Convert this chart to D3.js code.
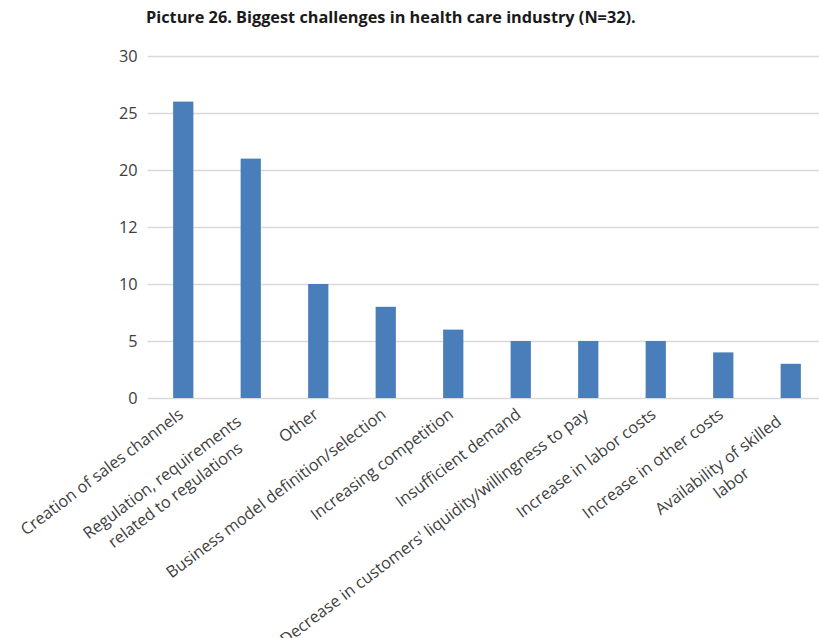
<!DOCTYPE html>
<html><head><meta charset="utf-8">
<script src="https://cdn.jsdelivr.net/npm/d3@7"></script>
<style>body{margin:0;background:#fff}svg{display:block}</style>
</head><body>
<svg id="c" width="819" height="638"></svg>
<script>
const title = "Picture 26. Biggest challenges in health care industry (N=32).";
const categories = [
  ["Creation of sales channels"],
  ["Regulation, requirements","related to regulations"],
  ["Other"],
  ["Business model definition/selection"],
  ["Increasing competition"],
  ["Insufficient demand"],
  ["Decrease in customers' liquidity/willingness to pay"],
  ["Increase in labor costs"],
  ["Increase in other costs"],
  ["Availability of skilled","labor"]
];
const values = [26, 21, 10, 8, 6, 5, 5, 5, 4, 3];
const tickValues = [0, 5, 10, 15, 20, 25, 30];
const tickLabels = ["0", "5", "10", "12", "20", "25", "30"];

const svg = d3.select("#c");
const font = "'Open Sans', sans-serif";
const fs = 16.3;
const mLeft = 149.5, mRight = 824.5, mTop = 56, mBottom = 398;

svg.append("text").attr("x", 146).attr("y", 23)
  .attr("font-family", font).attr("font-weight", 700).attr("font-size", fs)
  .attr("fill", "#1a1a1a").text(title);

const y = d3.scaleLinear().domain([0, 30]).range([mBottom, mTop]);
const x = d3.scaleBand().domain(d3.range(categories.length)).range([mLeft, mRight]).paddingInner(0.7).paddingOuter(0.35);

const yAxis = svg.append("g").attr("transform", `translate(${mLeft},0)`)
  .call(d3.axisLeft(y).tickValues(tickValues).tickFormat((d,i)=>tickLabels[i]).tickSize(-(mRight-mLeft)).tickPadding(12));
yAxis.select(".domain").remove();
yAxis.selectAll(".tick line").attr("stroke", "#d9d9d9").attr("stroke-width", 1.6).attr("x1", -2);
yAxis.selectAll(".tick text").attr("font-family", font).attr("font-size", fs).attr("fill", "#404040");

svg.append("g").selectAll("rect").data(values).join("rect")
  .attr("x", (d,i)=>x(i)).attr("width", x.bandwidth())
  .attr("y", d=>y(d)).attr("height", d=>y(0)-y(d))
  .attr("fill", "#4a7ebb");

const ang = 37, rad = ang * Math.PI / 180;
const lineH = 22;
const lab = svg.append("g");
categories.forEach((lines, i) => {
  const cx = x(i) + x.bandwidth()/2;
  const back = 12 * (lines.length - 1);
  const ax = cx - 6 - back * Math.cos(rad);
  const ay = mBottom + 9 + back * Math.sin(rad);
  const g = lab.append("g").attr("transform", `translate(${ax},${ay}) rotate(${-ang})`);
  const ts = lines.map((l, j) => g.append("text")
    .attr("font-family", font).attr("font-size", fs).attr("fill", "#404040")
    .attr("y", 12 + j * lineH).text(l));
  const widths = ts.map(t => t.node().getComputedTextLength());
  const maxW = d3.max(widths);
  ts.forEach(t => t.attr("text-anchor", "middle").attr("x", -maxW/2));
});
</script>
</body></html>
